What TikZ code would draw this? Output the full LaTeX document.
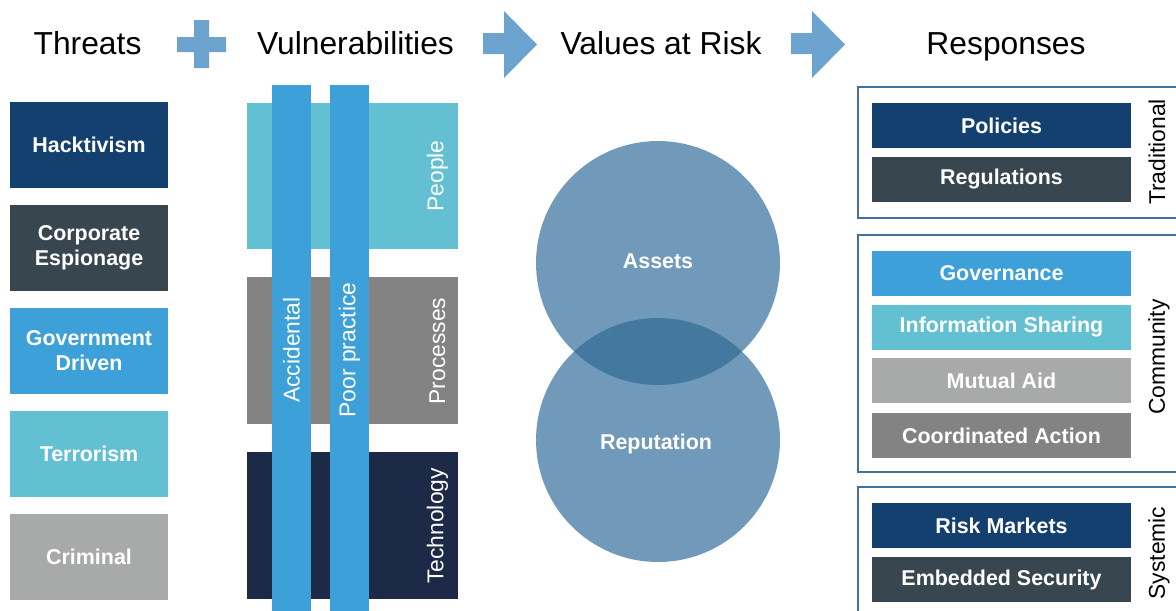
\documentclass[tikz,border=0pt]{standalone}
\usepackage{fontspec}
\setmainfont{Liberation Sans}
\usetikzlibrary{shapes, arrows.meta, positioning}
\definecolor{navy}{HTML}{144070}
\definecolor{slate}{HTML}{37464F}
\definecolor{azure}{HTML}{3DA0D8}
\definecolor{teal}{HTML}{62C0D2}
\definecolor{lightgrey}{HTML}{A8A9A9}
\definecolor{midgrey}{HTML}{838383}
\definecolor{nightblue}{HTML}{1C2A47}
\definecolor{circblue}{HTML}{7199BA}
\definecolor{overlapblue}{HTML}{43799F}
\definecolor{signblue}{HTML}{6CA3CF}
\definecolor{frameblue}{HTML}{3F72A0}
\newcommand{\headfont}{\fontsize{18.1}{20}\selectfont}
\newcommand{\boxfont}{\fontsize{12.2}{14.2}\selectfont\bfseries}
\newcommand{\sidefont}{\fontsize{13}{15}\selectfont}
\tikzstyle{block} = [rectangle, inner sep=0pt, text=white, font=\boxfont, align=center]
\tikzstyle{threatbox} = [block, minimum width=3.16cm, minimum height=1.72cm]
\tikzstyle{vulnbox} = [block, minimum width=4.22cm, minimum height=2.94cm]
\tikzstyle{respbox} = [block, minimum width=5.18cm, minimum height=0.9cm]
\tikzstyle{vbar} = [block, fill=azure, rotate=90, minimum width=10.6cm, minimum height=0.78cm, font=\sidefont]
\tikzstyle{vlabel} = [rotate=90, text=white, font=\sidefont]
\tikzstyle{sidelabel} = [rotate=90, font=\sidefont]
\tikzstyle{risk} = [circle, fill=circblue, minimum size=4.88cm, inner sep=0pt, text=white, font=\boxfont]
\tikzstyle{head} = [anchor=base, font=\headfont]
\tikzstyle{respframe} = [draw=frameblue, line width=1.2pt]
\tikzstyle{signshape} = [fill=signblue]

\begin{document}
\begin{tikzpicture}[x=0.02cm, y=-0.02cm]
  \useasboundingbox (0,0) rectangle (1176,610);
  \fill[white] (0,0) rectangle (1176,610);

  % headings
  \node[head] (threats) at (87.5,54) {Threats};
  \node[head] (vulns) at (355.5,54) {Vulnerabilities};
  \node[head] (values) at (661,54) {Values at Risk};
  \node[head] (responses) at (1006,54) {Responses};
  \fill[signshape] (194,20) -- (209,20) -- (209,37) -- (226,37) -- (226,52) -- (209,52)
    -- (209,68) -- (194,68) -- (194,52) -- (177,52) -- (177,37) -- (194,37) -- cycle;
  \foreach \ax in {483,791}
    \fill[signshape] (\ax,33) -- (\ax+21,33) -- (\ax+21,11) -- (\ax+54,44.5)
      -- (\ax+21,78) -- (\ax+21,54) -- (\ax,54) -- cycle;

  % threats
  \node[threatbox, fill=navy] (hack) at (89,145) {Hacktivism};
  \node[threatbox, fill=slate, below of=hack, node distance=2.06cm] (corp) {Corporate\\Espionage};
  \node[threatbox, fill=azure, below of=corp, node distance=2.06cm] (gov) {Government\\Driven};
  \node[threatbox, fill=teal, below of=gov, node distance=2.06cm] (terror) {Terrorism};
  \node[threatbox, fill=lightgrey, below of=terror, node distance=2.06cm] (crime) {Criminal};

  % vulnerabilities
  \node[vulnbox, fill=teal] (people) at (352.5,176) {};
  \node[vulnbox, fill=midgrey, below of=people, node distance=3.5cm] (processes) {};
  \node[vulnbox, fill=nightblue, below of=processes, node distance=3.5cm] (tech) {};
  \node[vlabel] (peoplelbl) at ([xshift=1.7cm]people.center) {People};
  \node[vlabel] (processeslbl) at ([xshift=1.7cm]processes.center) {Processes};
  \node[vlabel] (techlbl) at ([xshift=1.7cm]tech.center) {Technology};
  \node[vbar] (accidental) at (291.5,350) {Accidental};
  \node[vbar] (poor) at (349.5,350) {Poor practice};

  % values at risk
  \node[risk] (assets) at (658,263) {};
  \node[risk] (reputation) at (658,440) {};
  \begin{scope}
    \clip (assets.center) circle (2.44cm);
    \fill[overlapblue] (reputation.center) circle (2.44cm);
  \end{scope}
  \node[text=white, font=\boxfont] (assetslbl) at (658,261) {Assets};
  \node[text=white, font=\boxfont] (reputationlbl) at (656,444) {Reputation};

  % responses
  \draw[respframe] (858,87) rectangle (1190,218);
  \draw[respframe] (858,235) rectangle (1190,472);
  \draw[respframe] (858,487) rectangle (1190,620);
  \node[respbox, fill=navy] (policies) at (1001.5,125.5) {Policies};
  \node[respbox, fill=slate, below of=policies, node distance=1.08cm] (regulations) {Regulations};
  \node[respbox, fill=azure] (governance) at (1001.5,273.5) {Governance};
  \node[respbox, fill=teal, below of=governance, node distance=1.08cm] (sharing) {Information Sharing};
  \node[respbox, fill=lightgrey, below of=sharing, node distance=1.06cm] (mutual) {Mutual Aid};
  \node[respbox, fill=midgrey, below of=mutual, node distance=1.1cm] (coordinated) {Coordinated Action};
  \node[respbox, fill=navy] (markets) at (1001.5,525.5) {Risk Markets};
  \node[respbox, fill=slate, below of=markets, node distance=1.08cm] (embedded) {Embedded Security};
  \node[sidelabel] (traditional) at (1157,152) {Traditional};
  \node[sidelabel] (community) at (1159,357) {Community};
  \node[sidelabel] (systemic) at (1159,553) {Systemic};
\end{tikzpicture}
\end{document}
